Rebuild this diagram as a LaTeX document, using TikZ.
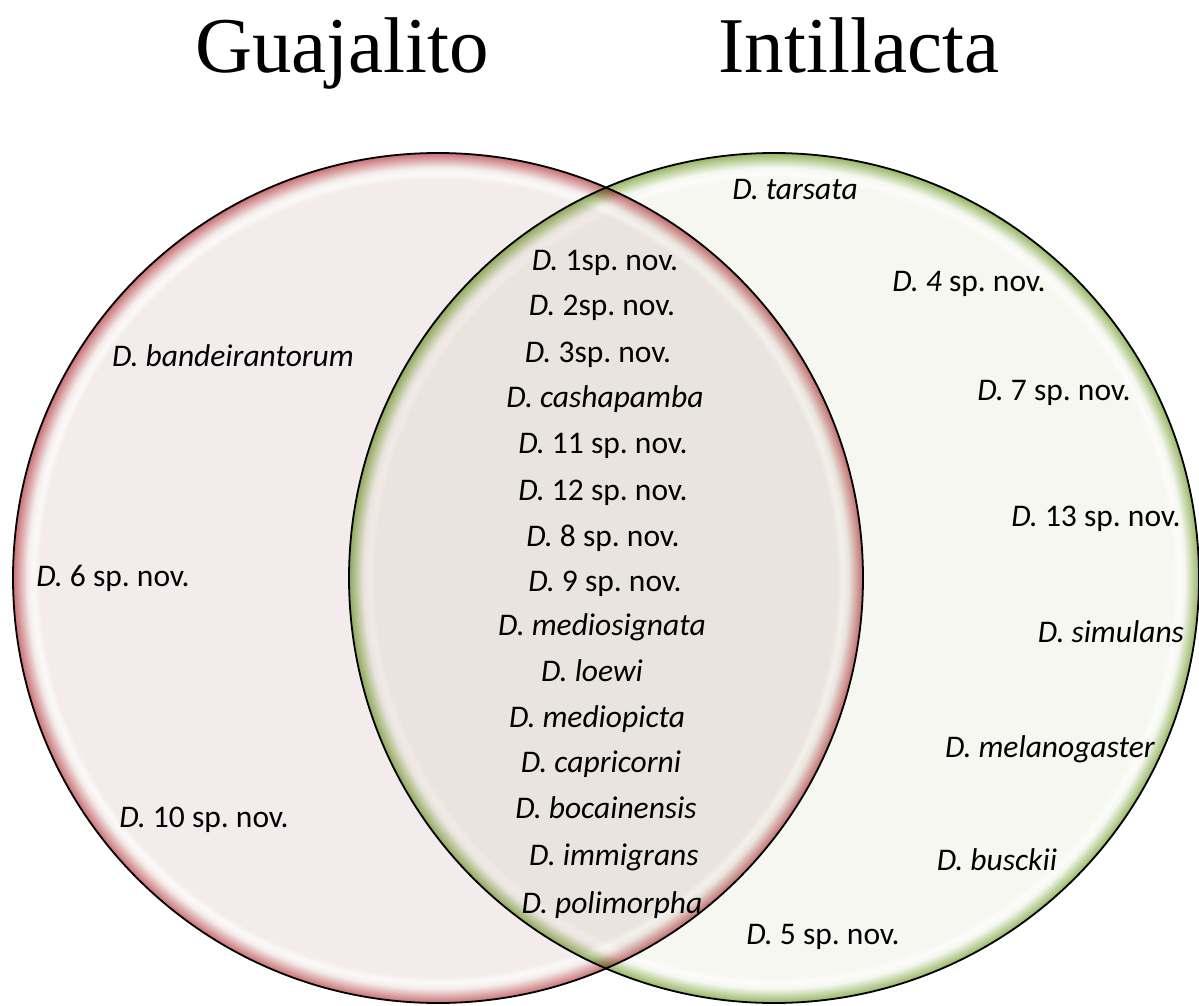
\documentclass[tikz,border=0pt]{standalone}
\usepackage{fontspec}
\newfontfamily\labelfont{Carlito}
\newfontfamily\titlefont{Liberation Serif}
\frenchspacing
\definecolor{guajaFill}{RGB}{244,236,236}
\definecolor{guajaRim}{RGB}{200,112,114}
\definecolor{intilFill}{RGB}{245,247,240}
\definecolor{intilRim}{RGB}{150,182,98}
\colorlet{guajaGlow}{white!70!guajaFill}
\colorlet{intilGlow}{white!70!intilFill}
\pgfdeclareradialshading{guajaShade}{\pgfpoint{0bp}{0bp}}{%
  color(0bp)=(guajaFill); color(23.45bp)=(guajaFill); color(23.8bp)=(guajaGlow);
  color(24.15bp)=(guajaFill); color(25bp)=(guajaRim); color(50bp)=(guajaRim)}
\pgfdeclareradialshading{intilShade}{\pgfpoint{0bp}{0bp}}{%
  color(0bp)=(intilFill); color(23.45bp)=(intilFill); color(23.8bp)=(intilGlow);
  color(24.15bp)=(intilFill); color(25bp)=(intilRim); color(50bp)=(intilRim)}

\begin{document}
\begin{tikzpicture}[x=0.5pt, y=-0.5pt,
    species/.style = {anchor=base, inner sep=0pt, font=\labelfont\fontsize{15.75}{19}\selectfont},
    site/.style = {anchor=base, inner sep=0pt, font=\titlefont\fontsize{39.5}{47}\selectfont},
    ring/.style = {draw=black, line width=0.9pt}]
  \useasboundingbox (0,0) rectangle (1199,1006);
  \def\r{425}
  \coordinate (gCen) at (438,578);
  \coordinate (iCen) at (774,578);

  % the two sets
  \shade [shading=guajaShade] (gCen) circle [radius=\r];
  \begin{scope}[blend mode=multiply]
    \shade [shading=intilShade] (iCen) circle [radius=\r];
  \end{scope}
  \draw [ring] (gCen) circle [radius=\r];
  \draw [ring] (iCen) circle [radius=\r];

  % titles
  \node [site] (guaja) at (342,73) {Guajalito};
  \node [site] (intil) at (859,73) {Intillacta};

  % Guajalito only
  \begin{scope}
    \node [species] (gBand) at (233,366) {\textit{D. bandeirantorum}};
    \node [species] (gSix) at (113,586) {\textit{D.} 6 sp. nov.};
    \node [species] (gTen) at (204,827) {\textit{D.} 10 sp. nov.};
  \end{scope}

  % both sites
  \begin{scope}
    \node [species] (bOne) at (605,270) {\textit{D.} 1sp. nov.};
    \node [species] (bTwo) at (602,315) {\textit{D.} 2sp. nov.};
    \node [species] (bThree) at (598,362) {\textit{D.} 3sp. nov.};
    \node [species] (bCash) at (605,407) {\textit{D. cashapamba}};
    \node [species] (bEleven) at (603,453) {\textit{D.} 11 sp. nov.};
    \node [species] (bTwelve) at (603,500) {\textit{D.} 12 sp. nov.};
    \node [species] (bEight) at (603,546) {\textit{D.} 8 sp. nov.};
    \node [species] (bNine) at (605,591) {\textit{D.} 9 sp. nov.};
    \node [species] (bMsig) at (602,635) {\textit{D. mediosignata}};
    \node [species] (bLoew) at (592,681) {\textit{D. loewi}};
    \node [species] (bMpic) at (597,727) {\textit{D. mediopicta}};
    \node [species] (bCapr) at (601,772) {\textit{D. capricorni}};
    \node [species] (bBoca) at (606,818) {\textit{D. bocainensis}};
    \node [species] (bImmi) at (614,865) {\textit{D. immigrans}};
    \node [species] (bPoli) at (612,913) {\textit{D. polimorpha}};
  \end{scope}

  % Intillacta only
  \begin{scope}
    \node [species] (iTars) at (795,199) {\textit{D. tarsata}};
    \node [species] (iFour) at (969,291) {\textit{D. 4} sp. nov.};
    \node [species] (iSeven) at (1054,400) {\textit{D.} 7 sp. nov.};
    \node [species] (iThirt) at (1096,526) {\textit{D.} 13 sp. nov.};
    \node [species] (iSimu) at (1111,642) {\textit{D. simulans}};
    \node [species] (iMela) at (1050,757) {\textit{D. melanogaster}};
    \node [species] (iBusc) at (997,870) {\textit{D. busckii}};
    \node [species] (iFive) at (823,944) {\textit{D.} 5 sp. nov.};
  \end{scope}
\end{tikzpicture}
\end{document}
